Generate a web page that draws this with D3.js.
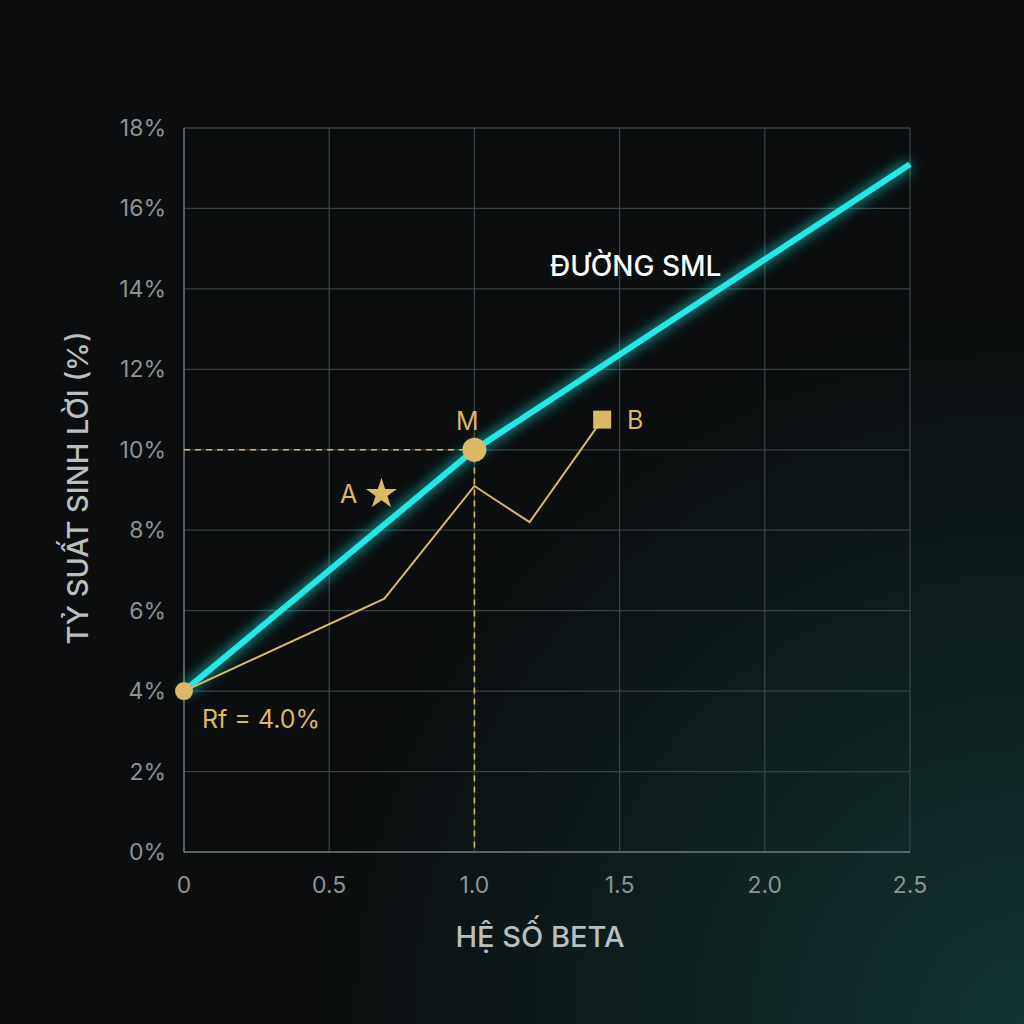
<!DOCTYPE html>
<html><head><meta charset="utf-8">
<script src="https://cdn.jsdelivr.net/npm/d3@7"></script>
<style>body{margin:0;background:#0b0d0e}</style>
</head><body>
<svg width="1024" height="1024"></svg>
<script>
var xTicks = [0, 0.5, 1.0, 1.5, 2.0, 2.5];
var xTickLabels = ["0", "0.5", "1.0", "1.5", "2.0", "2.5"];
var yTicks = [0, 2, 4, 6, 8, 10, 12, 14, 16, 18];
var smlBeta = [0, 1, 2.5];
var smlReturn = [4, 10, 17.1];
var pathBeta = [0, 0.69, 1.0, 1.19, 1.44];
var pathReturn = [4, 6.3, 9.1, 8.2, 10.75];
var rf = 4, mBeta = 1, mReturn = 10;
var aPoint = [0.68, 8.9], bPoint = [1.44, 10.75];

var gold = "#d9b866", cyan = "#22e8e6";
var svg = d3.select("svg");
var defs = svg.append("defs");
var bg = defs.append("radialGradient").attr("id", "bg").attr("cx", "100%").attr("cy", "100%").attr("r", "70%");
bg.append("stop").attr("offset", "0").attr("stop-color", "#123432");
bg.append("stop").attr("offset", "1").attr("stop-color", "#0b0d0e");
var glow = defs.append("filter").attr("id", "glow").attr("x", "-20%").attr("y", "-20%").attr("width", "140%").attr("height", "140%");
glow.append("feGaussianBlur").attr("stdDeviation", 7).attr("result", "b");
var fm = glow.append("feMerge");
fm.append("feMergeNode").attr("in", "b");
fm.append("feMergeNode").attr("in", "SourceGraphic");
svg.append("rect").attr("width", 1024).attr("height", 1024).attr("fill", "url(#bg)");

var x = d3.scaleLinear().domain([0, 2.5]).range([184, 910]);
var y = d3.scaleLinear().domain([0, 18]).range([852, 128]);

var grid = svg.append("g").attr("stroke", "#3a4244").attr("stroke-width", 1.3);
xTicks.forEach(t => grid.append("line").attr("x1", x(t)).attr("x2", x(t)).attr("y1", y(0)).attr("y2", y(18)));
yTicks.forEach(t => grid.append("line").attr("x1", x(0)).attr("x2", x(2.5)).attr("y1", y(t)).attr("y2", y(t)));
svg.append("line").attr("x1", x(0)).attr("x2", x(2.5)).attr("y1", y(0)).attr("y2", y(0)).attr("stroke", "#6a7274").attr("stroke-width", 1.5);
svg.append("line").attr("x1", x(0)).attr("x2", x(0)).attr("y1", y(0)).attr("y2", y(18)).attr("stroke", "#6a7274").attr("stroke-width", 1.5);

var tf = "Inter, 'Noto Sans', sans-serif";
svg.append("g").selectAll("text").data(yTicks).join("text")
  .attr("x", 166).attr("y", d => y(d) + 8).attr("text-anchor", "end")
  .attr("fill", "#8c9394").attr("font-size", 23).attr("font-family", tf).text(d => d + "%");
svg.append("g").selectAll("text").data(xTicks).join("text")
  .attr("x", d => x(d)).attr("y", 893).attr("text-anchor", "middle")
  .attr("fill", "#8c9394").attr("font-size", 23).attr("font-family", tf).text((d, i) => xTickLabels[i]);

svg.append("text").attr("x", 540).attr("y", 947).attr("text-anchor", "middle").attr("fill", "#b9bfc0")
  .attr("font-size", 29).attr("font-weight", 500).attr("font-family", tf).text("HỆ SỐ BETA");
svg.append("text").attr("transform", "translate(88,488) rotate(-90)").attr("text-anchor", "middle").attr("fill", "#b9bfc0")
  .attr("font-size", 29).attr("font-weight", 500).attr("font-family", tf).text("TỶ SUẤT SINH LỜI (%)");

// dashed guides to M
svg.append("path").attr("d", `M${x(0)},${y(mReturn)}H${x(mBeta)}V${y(0)}`)
  .attr("fill", "none").attr("stroke", gold).attr("stroke-width", 1.6).attr("stroke-dasharray", "6,5");

// SML
var sml = d3.line().x(d => x(d[0])).y(d => y(d[1]));
svg.append("path").datum(d3.zip(smlBeta, smlReturn)).attr("d", sml)
  .attr("fill", "none").attr("stroke", cyan).attr("stroke-width", 6).attr("filter", "url(#glow)");

// gold path
svg.append("path").datum(d3.zip(pathBeta, pathReturn)).attr("d", sml)
  .attr("fill", "none").attr("stroke", gold).attr("stroke-width", 2);

svg.append("circle").attr("cx", x(0)).attr("cy", y(rf)).attr("r", 9).attr("fill", gold);
svg.append("circle").attr("cx", x(mBeta)).attr("cy", y(mReturn)).attr("r", 12).attr("fill", gold);
svg.append("path").attr("d", d3.symbol(d3.symbolStar, 300)())
  .attr("transform", `translate(${x(aPoint[0])},${y(aPoint[1])})`).attr("fill", gold);
svg.append("rect").attr("x", x(bPoint[0]) - 9).attr("y", y(bPoint[1]) - 9).attr("width", 18).attr("height", 18).attr("fill", gold);

var lf = (t, px, py, c, s, w) => svg.append("text").attr("x", px).attr("y", py).attr("fill", c)
  .attr("font-size", s).attr("font-weight", w || 400).attr("font-family", tf).text(t);
lf("Rf = 4.0%", 202, 728, gold, 25);
lf("M", 456, 430, gold, 25);
lf("A", 340, 503, gold, 25);
lf("B", 627, 429, gold, 25);
lf("ĐƯỜNG SML", 550, 276, "#ffffff", 28, 500);
</script>
</body></html>
